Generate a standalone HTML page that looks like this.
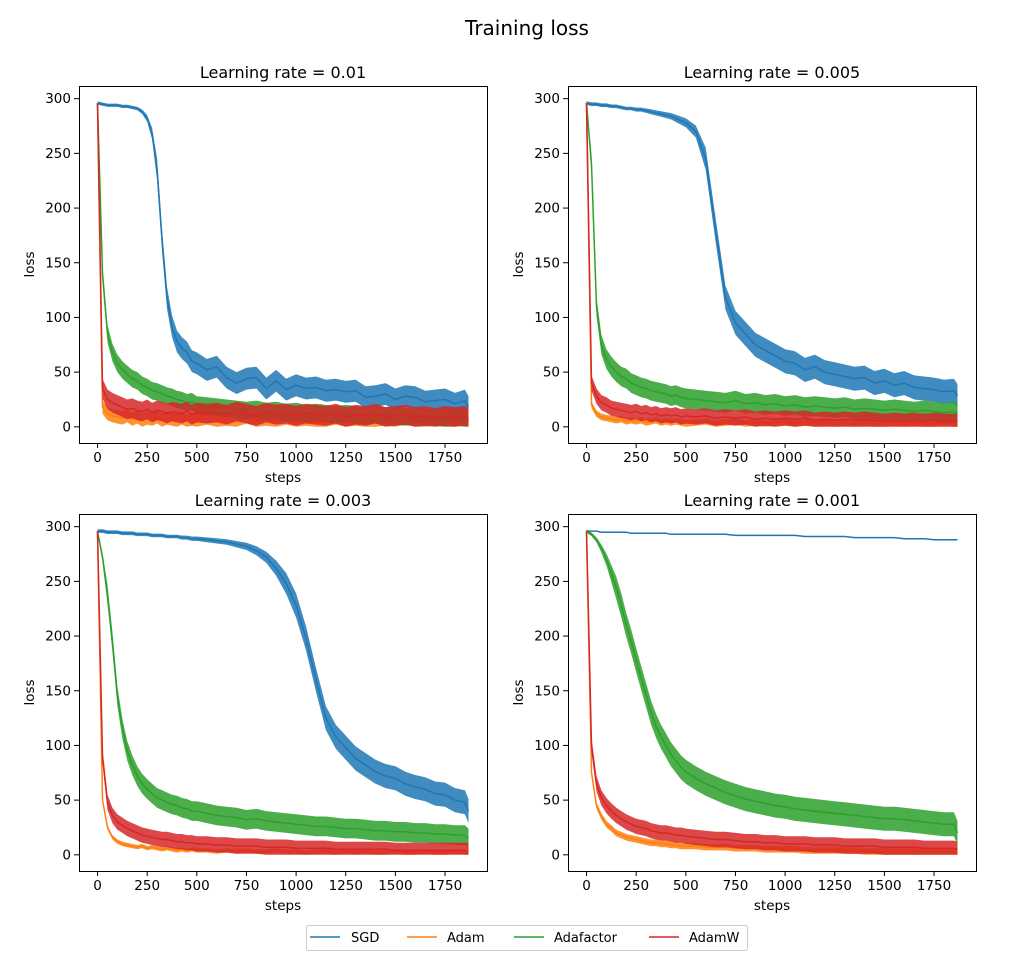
<!DOCTYPE html>
<html><head><meta charset="utf-8"><style>
body{margin:0;background:#fff;}
svg{display:block;font-family:"DejaVu Sans","Liberation Sans",sans-serif;}
</style></head><body>
<svg id="fig" width="1020" height="957" viewBox="0 0 1020 957" xmlns="http://www.w3.org/2000/svg">
<text x="527" y="35" text-anchor="middle" font-size="20">Training loss</text>
<g id="panels"></g>
<g>
<rect x="306.5" y="925.5" width="441" height="25" fill="#fff" stroke="#ccc" rx="2"/>
<g><line x1="310" y1="937" x2="340" y2="937" stroke="#1f77b4" stroke-width="1.5"/><text x="351" y="942" font-size="13">SGD</text></g>
<g><line x1="407" y1="937" x2="437" y2="937" stroke="#ff7f0e" stroke-width="1.5"/><text x="447" y="942" font-size="13">Adam</text></g>
<g><line x1="514" y1="937" x2="544" y2="937" stroke="#2ca02c" stroke-width="1.5"/><text x="554" y="942" font-size="13">Adafactor</text></g>
<g><line x1="649" y1="937" x2="679" y2="937" stroke="#d62728" stroke-width="1.5"/><text x="689" y="942" font-size="13">AdamW</text></g>
</g>
</svg>
<script>
const steps=[0,25,50,75,100,125,150,175,200,225,250,275,300,325,350,375,400,425,450,475,500,550,600,650,700,750,800,850,900,950,1000,1050,1100,1150,1200,1250,1300,1350,1400,1450,1500,1550,1600,1650,1700,1750,1800,1850,1868];
const seriesNames=["SGD","Adam","Adafactor","AdamW"];
const panelTitles=["Learning rate = 0.01","Learning rate = 0.005","Learning rate = 0.003","Learning rate = 0.001"];
const xTicks=[0,250,500,750,1000,1250,1500,1750];
const yTicks=[0,50,100,150,200,250,300];

const lr01_sgd=[296,295,294,294,294,293,293,292,291,288,282,268,235,170,118,92,78,72,68,60,58,52,55,45,40,44,45,35,42,34,38,35,36,33,34,32,33,27,28,30,25,28,27,23,24,25,21,24,18];
const lr01_adam=[296,18,12,10,9,8,10,7,9,6,8,7,9,6,8,7,6,8,5,7,6,8,6,7,5,9,6,7,5,8,6,7,5,6,8,5,7,6,5,7,6,8,5,6,7,5,6,8,5];
const lr01_adafactor=[296,140,85,68,58,52,48,44,42,38,36,33,32,30,28,27,25,24,22,23,20,19,18,17,16,15,16,14,15,13,14,12,13,12,11,12,11,10,11,10,10,9,10,9,9,8,9,8,6];
const lr01_adamw=[296,35,25,22,20,18,16,17,15,14,16,13,15,14,12,14,13,12,14,11,13,12,13,11,14,12,10,13,11,12,10,12,11,10,12,9,11,10,12,9,10,11,9,10,8,10,9,10,8];

const lr005_sgd=[296,295,295,294,294,293,293,292,291,291,290,290,289,288,287,286,285,284,282,280,278,270,245,180,118,95,85,75,70,65,60,58,52,55,50,48,46,44,45,40,42,38,40,36,35,34,32,33,28];
const lr005_adam=[296,20,12,9,8,7,6,7,5,6,5,6,4,5,6,4,5,4,5,4,3,4,5,3,4,5,3,4,3,4,5,3,4,3,4,3,4,3,4,3,3,4,3,4,3,3,4,3,3];
const lr005_adafactor=[296,240,110,75,62,55,50,46,44,40,38,36,35,33,32,31,30,28,29,27,26,25,24,23,22,24,21,22,20,21,19,20,18,19,18,17,18,16,17,16,15,16,15,14,15,14,13,14,12];
const lr005_adamw=[296,40,28,22,20,17,16,15,14,13,14,12,13,11,12,10,11,10,11,9,10,9,10,8,9,8,9,7,8,7,8,7,8,6,7,6,7,6,7,6,5,6,5,6,5,6,5,5,5];

const lr003_sgd=[296,296,295,295,295,294,294,294,293,293,293,292,292,292,291,291,291,290,290,289,289,288,287,286,284,282,278,272,262,248,228,198,160,125,108,98,88,82,76,72,70,65,62,60,56,55,50,48,40];
const lr003_adam=[296,50,25,16,12,10,9,8,7,8,6,7,6,5,6,5,4,5,4,5,4,4,3,4,3,4,3,3,4,3,3,2,3,3,2,3,2,3,2,2,3,2,2,3,2,2,3,2,2];
const lr003_adafactor=[296,272,238,195,145,115,95,82,72,65,60,56,52,50,48,46,45,43,42,40,40,38,36,35,34,32,33,31,30,29,28,27,26,26,25,24,24,23,22,22,21,21,20,20,19,19,18,18,15];
const lr003_adamw=[296,90,48,36,30,27,24,22,20,18,17,16,15,14,14,13,12,12,11,11,10,10,9,9,8,8,8,7,7,7,6,6,6,6,5,5,5,5,5,5,4,4,4,4,4,4,4,4,4];

const lr001_sgd=[296,296,296,295,295,295,295,295,295,294,294,294,294,294,294,294,294,293,293,293,293,293,293,293,293,292,292,292,292,292,292,292,291,291,291,291,291,290,290,290,290,290,289,289,289,288,288,288,288];
const lr001_adam=[296,75,45,35,28,24,20,18,16,15,14,13,12,11,11,10,10,9,9,8,8,8,7,7,7,6,6,6,5,5,5,5,4,4,4,4,4,4,3,3,3,3,3,3,3,3,3,3,3];
const lr001_adafactor=[296,293,288,280,270,257,244,228,210,195,178,162,146,130,118,108,100,92,86,80,76,70,65,61,57,54,51,49,47,45,44,42,41,40,39,38,37,36,35,34,33,33,32,31,30,29,28,28,20];
const lr001_adamw=[296,100,65,52,45,40,36,33,30,28,26,25,24,22,21,20,20,19,18,18,17,16,15,14,14,13,12,12,11,11,10,10,10,9,9,9,8,8,8,8,7,7,7,7,6,6,6,6,5];

const noise01=[10,6,8,9];
const noise005=[11,3,9,7];
const noise003=[11,2,9,7];
const noise001=[2,3,11,7];

const panelData=[[lr01_sgd,lr01_adam,lr01_adafactor,lr01_adamw],[lr005_sgd,lr005_adam,lr005_adafactor,lr005_adamw],[lr003_sgd,lr003_adam,lr003_adafactor,lr003_adamw],[lr001_sgd,lr001_adam,lr001_adafactor,lr001_adamw]];
const panelNoise=[noise01,noise005,noise003,noise001];
const colors=["#1f77b4","#ff7f0e","#2ca02c","#d62728"];
const boxes=[{L:79,T:86},{L:568,T:86},{L:79,T:514},{L:568,T:514}];
const W=408,H=357,XMIN=-93.4,XMAX=1961.4,YMIN=-14.8,YMAX=311.6;
const NS="http://www.w3.org/2000/svg";
const root=document.getElementById('panels');
function mk(tag,attrs,parent){const e=document.createElementNS(NS,tag);for(const k in attrs)e.setAttribute(k,attrs[k]);parent.appendChild(e);return e;}
const slug=["lr-0-01","lr-0-005","lr-0-003","lr-0-001"];
boxes.forEach((b,p)=>{
  const xs=v=>b.L+(v-XMIN)/(XMAX-XMIN)*W;
  const ys=v=>b.T+H-(v-YMIN)/(YMAX-YMIN)*H;
  const g=mk('g',{},root);
  
  
  const clipId='clip'+p;
  const cp=mk('clipPath',{id:clipId},g);mk('rect',{x:b.L,y:b.T,width:W,height:H},cp);
  const plot=mk('g',{'clip-path':'url(#'+clipId+')'},g);
  panelData[p].forEach((vals,k)=>{
    const nz=panelNoise[p][k];
    const hw=vals.map(v=>nz*Math.max(0.15,Math.min(1,(300-v)/60)));
    let up=vals.map((v,i)=>xs(steps[i]).toFixed(1)+','+ys(v+hw[i]).toFixed(1));
    let dn=vals.map((v,i)=>xs(steps[i]).toFixed(1)+','+ys(Math.max(0,v-hw[i])).toFixed(1)).reverse();
    const band=mk('polygon',{points:up.concat(dn).join(' '),fill:colors[k],'fill-opacity':'0.85',stroke:'none'},plot);
    
    
    const pts=vals.map((v,i)=>xs(steps[i]).toFixed(1)+','+ys(v).toFixed(1)).join(' ');
    const line=mk('polyline',{points:pts,fill:'none',stroke:colors[k],'stroke-width':'1.5'},plot);
    
    
  });
  const frame=mk('rect',{x:b.L+0.5,y:b.T+0.5,width:W,height:H,fill:'none',stroke:'#000','stroke-width':'1'},g);
  
  
  xTicks.forEach(t=>{
    const x=xs(t);
    mk('line',{x1:x,y1:b.T+H,x2:x,y2:b.T+H+5,stroke:'#000'},g);
    const tx=mk('text',{x:x,y:b.T+H+19,'text-anchor':'middle','font-size':'13.5'},g);tx.textContent=t;
    
    
  });
  yTicks.forEach(t=>{
    const y=ys(t);
    mk('line',{x1:b.L-5,y1:y,x2:b.L,y2:y,stroke:'#000'},g);
    const ty=mk('text',{x:b.L-8,y:y+4.5,'text-anchor':'end','font-size':'13.5'},g);ty.textContent=t;
    
    
  });
  const ti=mk('text',{x:b.L+W/2,y:b.T-8,'text-anchor':'middle','font-size':'16'},g);ti.textContent=panelTitles[p];
  
  
  const xl=mk('text',{x:b.L+W/2,y:b.T+H+39,'text-anchor':'middle','font-size':'13.5'},g);xl.textContent='steps';
  
  
  const yl=mk('text',{x:0,y:0,'text-anchor':'middle','font-size':'13.5',transform:'translate('+(b.L-45)+','+(b.T+H/2)+') rotate(-90)'},g);yl.textContent='loss';
  
  
});
</script>
</body></html>
